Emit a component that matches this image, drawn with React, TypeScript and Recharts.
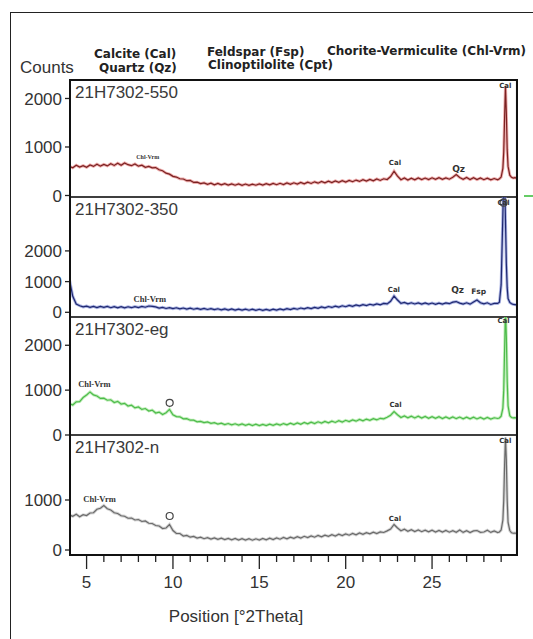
import React from "react";
import { LineChart, Line, XAxis, YAxis, ReferenceDot, ReferenceArea } from "recharts";

// 2theta positions shared by all four scans
const POS = [
  4.0, 4.2, 4.4, 4.6, 4.8, 5.0, 5.2, 5.4, 5.6, 5.8,
  6.0, 6.2, 6.4, 6.6, 6.8, 7.0, 7.2, 7.4, 7.6, 7.8,
  8.0, 8.2, 8.4, 8.6, 8.8, 9.0, 9.2, 9.4, 9.6, 9.8,
  10.0, 10.2, 10.4, 10.6, 10.8, 11.0, 11.2, 11.4, 11.6, 11.8,
  12.0, 12.2, 12.4, 12.6, 12.8, 13.0, 13.2, 13.4, 13.6, 13.8,
  14.0, 14.2, 14.4, 14.6, 14.8, 15.0, 15.2, 15.4, 15.6, 15.8,
  16.0, 16.2, 16.4, 16.6, 16.8, 17.0, 17.2, 17.4, 17.6, 17.8,
  18.0, 18.2, 18.4, 18.6, 18.8, 19.0, 19.2, 19.4, 19.6, 19.8,
  20.0, 20.2, 20.4, 20.6, 20.8, 21.0, 21.2, 21.4, 21.6, 21.8,
  22.0, 22.2, 22.4, 22.6, 22.8, 23.0, 23.2, 23.4, 23.6, 23.8,
  24.0, 24.2, 24.4, 24.6, 24.8, 25.0, 25.2, 25.4, 25.6, 25.8,
  26.0, 26.2, 26.4, 26.6, 26.8, 27.0, 27.2, 27.4, 27.6, 27.8,
  28.0, 28.2, 28.4, 28.6, 28.8,
  28.9, 29.0, 29.1, 29.15, 29.2, 29.25, 29.3, 29.35, 29.4, 29.5, 29.6, 29.7, 29.8, 29.9,
];

const COUNTS_550 = [
  600, 570, 625, 585, 615, 580, 630, 600, 645, 605,
  640, 610, 655, 620, 665, 625, 670, 635, 615, 650,
  605, 625, 580, 600, 570, 575, 530, 510, 460, 440,
  395, 380, 345, 340, 305, 310, 270, 275, 245, 260,
  230, 255, 220, 248, 218, 245, 215, 240, 212, 238,
  210, 236, 208, 232, 212, 240, 214, 244, 218, 248,
  222, 252, 226, 258, 232, 262, 236, 268, 240, 275,
  248, 282, 254, 288, 260, 294, 266, 300, 272, 306,
  278, 312, 284, 318, 290, 326, 296, 332, 302, 340,
  310, 345, 330, 390, 500, 400, 325, 360, 320, 355,
  325, 362, 328, 360, 330, 365, 332, 368, 334, 362,
  336, 375, 430, 370, 335, 370, 330, 365, 328, 360,
  326, 356, 322, 350, 325,
  345, 380, 560, 900, 1600, 2250, 1700, 950, 600, 420, 375, 360, 368, 355,
];

const COUNTS_350 = [
  1080, 520, 270, 215, 175, 200, 160, 195, 155, 190,
  160, 192, 150, 185, 148, 182, 145, 180, 150, 185,
  155, 190, 165, 205, 195, 175, 135, 160, 125, 150,
  120, 148, 112, 140, 105, 135, 100, 130, 95, 125,
  92, 120, 85, 115, 80, 110, 75, 108, 72, 105,
  70, 102, 68, 100, 65, 98, 62, 96, 64, 100,
  70, 108, 80, 118, 90, 128, 100, 140, 110, 150,
  120, 162, 132, 175, 145, 188, 158, 200, 170, 212,
  182, 225, 195, 238, 208, 250, 220, 262, 232, 275,
  245, 290, 275, 360, 530, 400, 290, 320, 275, 310,
  272, 306, 268, 304, 266, 302, 262, 300, 268, 305,
  280, 330, 350, 300, 270, 310, 265, 335, 400, 310,
  275, 310, 255, 290, 290,
  330, 900, 3200, 4500, 4400, 3000, 1600, 800, 450, 320, 280, 260, 250, 240,
];

const COUNTS_EG = [
  700, 670, 740, 745, 835, 890, 960, 895, 870, 815,
  820, 775, 785, 725, 750, 690, 705, 645, 665, 605,
  625, 570, 590, 535, 555, 490, 510, 455, 495, 570,
  450, 410, 405, 360, 365, 330, 330, 295, 305, 275,
  290, 258, 274, 244, 262, 232, 256, 226, 250, 220,
  246, 216, 242, 212, 240, 210, 238, 212, 242, 216,
  248, 222, 255, 228, 262, 234, 270, 240, 278, 248,
  286, 256, 294, 264, 302, 272, 310, 280, 320, 290,
  328, 298, 336, 308, 346, 316, 355, 326, 365, 336,
  372, 360, 395, 440, 520, 450, 390, 425, 385, 420,
  380, 418, 376, 414, 372, 410, 370, 406, 368, 404,
  366, 402, 364, 400, 362, 398, 360, 395, 358, 392,
  356, 390, 354, 384, 368,
  380, 420, 600, 1000, 1900, 2800, 2200, 1200, 650, 430, 390, 380, 385, 378,
];

const COUNTS_N = [
  700, 675, 715, 665, 705, 690, 740, 745, 815, 835,
  890, 825, 800, 745, 730, 685, 675, 635, 640, 600,
  610, 570, 580, 535, 530, 490, 480, 430, 440, 510,
  390, 330, 330, 280, 292, 256, 272, 238, 255, 226,
  248, 218, 242, 212, 236, 208, 232, 204, 230, 200,
  226, 198, 225, 196, 224, 200, 230, 204, 236, 210,
  242, 216, 250, 224, 258, 232, 266, 240, 274, 248,
  282, 256, 290, 264, 298, 272, 306, 280, 315, 288,
  322, 296, 330, 304, 340, 312, 348, 322, 356, 330,
  362, 350, 382, 420, 510, 440, 385, 415, 375, 408,
  370, 402, 366, 398, 362, 396, 360, 392, 358, 390,
  356, 388, 354, 400, 352, 385, 350, 382, 390, 352,
  360, 395, 352, 382, 350,
  360, 400, 600, 1000, 1700, 2250, 1800, 1000, 550, 390, 345, 335, 340, 330,
];

const X_TICKS = [5, 6, 7, 8, 9, 10, 11, 12, 13, 14, 15, 16, 17, 18, 19, 20, 21, 22, 23, 24, 25, 26, 27, 28, 29];

// phase labels (position in 2theta / counts)
const NOTES_550 = [
  { x: 8.54, y: 794, text: "Chl-Vrm" },
  { x: 22.85, y: 670, text: "Cal" },
  { x: 26.54, y: 546, text: "Qz" },
  { x: 29.24, y: 2264, text: "Cal" },
];
const NOTES_350 = [
  { x: 8.66, y: 433, text: "Chl-Vrm" },
  { x: 22.79, y: 726, text: "Cal" },
  { x: 26.48, y: 726, text: "Qz" },
  { x: 27.7, y: 694, text: "Fsp" },
  { x: 29.14, y: 3570, text: "Cal" },
];
const NOTES_EG = [
  { x: 5.45, y: 1140, text: "Chl-Vrm" },
  { x: 22.89, y: 673, text: "Cal" },
  { x: 29.14, y: 2540, text: "Cal" },
];
const NOTES_N = [
  { x: 5.75, y: 1020, text: "Chl-Vrm" },
  { x: 22.85, y: 620, text: "Cal" },
  { x: 29.24, y: 2180, text: "Cal" },
];
// clinoptilolite markers
const RINGS_350 = [{ x: 29.14, y: 3570 }];
const RINGS_EG = [{ x: 9.81, y: 718 }];
const RINGS_N = [{ x: 9.81, y: 680 }];

const X_MIN = 4.04;
const X_MAX = 29.9;
const FONT = "'Liberation Sans', Arial, sans-serif";
const PAD = 12;

type Note = { x: number; y: number; text: string };
type Panel = {
  name: string;
  values: number[];
  domain: [number, number];
  ticks: number[];
  core: string;
  halo: string;
  notes: Note[];
  rings: { x: number; y: number }[];
  top: number;
  height: number;
  chlSize: number;
  last?: boolean;
};

const PANELS: Panel[] = [
  { name: "21H7302-550", values: COUNTS_550, domain: [-31, 2381], ticks: [0, 1000, 2000], core: "#7a2222", halo: "#e89292", notes: NOTES_550, rings: [], top: 80, height: 117, chlSize: 6 },
  { name: "21H7302-350", values: COUNTS_350, domain: [-153, 3756], ticks: [0, 1000, 2000], core: "#1f2870", halo: "#8e9ad8", notes: NOTES_350, rings: RINGS_350, top: 197, height: 120, chlSize: 8.5 },
  { name: "21H7302-eg", values: COUNTS_EG, domain: [0, 2630], ticks: [0, 1000, 2000], core: "#4dbb4b", halo: "#aee8a4", notes: NOTES_EG, rings: RINGS_EG, top: 317, height: 118, chlSize: 8.5 },
  { name: "21H7302-n", values: COUNTS_N, domain: [-100, 2300], ticks: [0, 1000], core: "#6a6a6a", halo: "#c4c4c4", notes: NOTES_N, rings: RINGS_N, top: 435, height: 120, chlSize: 8.5, last: true },
];

function noteStyle(text: string, chlSize: number) {
  if (text === "Chl-Vrm") return { fontFamily: "'Liberation Serif', serif", fontSize: chlSize };
  if (text === "Qz") return { fontFamily: "'DejaVu Sans', sans-serif", fontSize: 9 };
  if (text === "Fsp") return { fontFamily: "'DejaVu Sans', sans-serif", fontSize: 7.5 };
  return { fontFamily: "'DejaVu Sans', sans-serif", fontSize: 7 };
}

function XTick(props: any) {
  const { x, y, payload } = props;
  const major = payload.value % 5 === 0;
  return (
    <g>
      <line x1={x} x2={x} y1={y} y2={y + (major ? 14 : 7)} stroke="#222" strokeWidth={1.3} />
      {major && (
        <text x={x} y={y + 33} textAnchor="middle" fontSize={17} fill="#333" fontFamily={FONT}>
          {payload.value}
        </text>
      )}
    </g>
  );
}

function PanelChart({ p }: { p: Panel }) {
  const data = POS.map((x, i) => ({ x, y: p.values[i] }));
  const axisH = p.last ? 70 : 0;
  const h = p.height + PAD + (p.last ? axisH : PAD);
  return (
    <div style={{ position: "absolute", left: 0, top: p.top - PAD }}>
      <LineChart
        width={533}
        height={h}
        data={data}
        margin={{ top: PAD, right: 16.3, bottom: p.last ? 0 : PAD, left: 0 }}
      >
        <XAxis
          type="number"
          dataKey="x"
          domain={[X_MIN, X_MAX]}
          allowDataOverflow
          hide={!p.last}
          ticks={X_TICKS}
          interval={0}
          height={axisH}
          tickSize={0}
          tickMargin={0}
          tickLine={false}
          axisLine={{ stroke: "#111", strokeWidth: 2 }}
          tick={<XTick />}
        />
        <YAxis
          type="number"
          domain={p.domain}
          allowDataOverflow
          ticks={p.ticks}
          interval={0}
          width={70}
          tickSize={5}
          tickMargin={3}
          tick={{ fontSize: 17, fill: "#333", fontFamily: FONT }}
          tickLine={{ stroke: "#222", strokeWidth: 1.3 }}
          axisLine={{ stroke: "#111", strokeWidth: 2 }}
        />
        <ReferenceArea
          x1={X_MIN}
          x2={X_MAX}
          y1={p.domain[0]}
          y2={p.domain[1]}
          fill="none"
          stroke="#333"
          strokeWidth={1.5}
          ifOverflow="visible"
        />
        <Line type="linear" dataKey="y" stroke={p.halo} strokeWidth={3} strokeOpacity={0.75} dot={false} activeDot={false} isAnimationActive={false} />
        <Line type="linear" dataKey="y" stroke={p.core} strokeWidth={1.2} dot={false} activeDot={false} isAnimationActive={false} />
        {p.rings.map((r, i) => (
          <ReferenceDot key={"r" + i} x={r.x} y={r.y} r={3.5} fill="none" stroke="#444" strokeWidth={1.2} ifOverflow="visible" />
        ))}
        {p.notes.map((n, i) => (
          <ReferenceDot
            key={"n" + i}
            x={n.x}
            y={n.y}
            r={1}
            ifOverflow="visible"
            shape={(s: any) => (
              <text
                x={s.cx}
                y={s.cy}
                dy="0.35em"
                textAnchor="middle"
                fontWeight="bold"
                fill="#333"
                {...noteStyle(n.text, p.chlSize)}
              >
                {n.text}
              </text>
            )}
          />
        ))}
        <ReferenceDot
          x={X_MIN}
          y={p.domain[1]}
          r={1}
          ifOverflow="visible"
          shape={(s: any) => (
            <text x={s.cx + 5} y={s.cy + 18} fontSize={17} fill="#3a3a3a" fontFamily={FONT}>
              {p.name}
            </text>
          )}
        />
      </LineChart>
    </div>
  );
}

export default function App() {
  return (
    <div
      style={{
        position: "absolute",
        left: 0,
        top: 0,
        width: 533,
        height: 639,
        overflow: "hidden",
        background: "#fff",
      }}
    >
      {/* outer figure frame */}
      <div
        style={{
          position: "absolute",
          left: 10,
          top: 12,
          width: 700,
          height: 700,
          borderLeft: "1.5px solid #222",
          borderTop: "1.5px solid #222",
        }}
      />
      {PANELS.map((p) => (
        <PanelChart key={p.name} p={p} />
      ))}
      {/* heavy plot frame */}
      <div
        style={{
          position: "absolute",
          left: 69,
          top: 79,
          width: 448.7,
          height: 477,
          border: "2px solid #111",
          boxSizing: "border-box",
          pointerEvents: "none",
        }}
      />
      <div style={{ position: "absolute", left: 524, top: 195, width: 10, height: 2, background: "#66cc66" }} />
      <svg width={533} height={639} style={{ position: "absolute", left: 0, top: 0, pointerEvents: "none" }}>
        <text x={20} y={73} fontSize={17} fill="#333" fontFamily={FONT}>Counts</text>
        <g fontFamily="'DejaVu Sans', sans-serif" fontWeight="bold" fontSize={12} fill="#222">
          <text x={94} y={58}>Calcite (Cal)</text>
          <text x={99} y={72}>Quartz (Qz)</text>
          <text x={207} y={56}>Feldspar (Fsp)</text>
          <text x={208} y={69}>Clinoptilolite (Cpt)</text>
          <text x={327} y={55}>Chorite-Vermiculite (Chl-Vrm)</text>
        </g>
        <text x={236} y={622} textAnchor="middle" fontSize={17} fill="#333" fontFamily={FONT}>
          Position [°2Theta]
        </text>
      </svg>
    </div>
  );
}
